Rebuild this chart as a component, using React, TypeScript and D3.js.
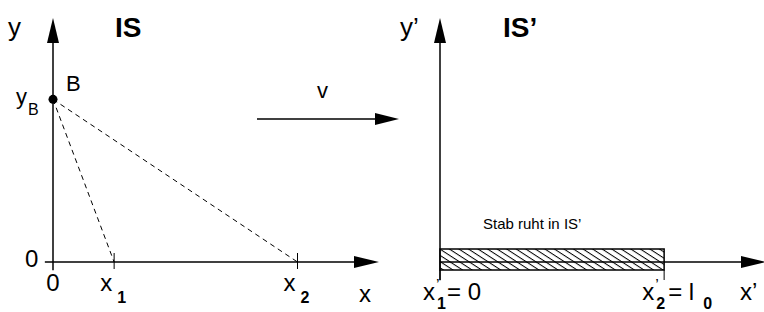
import React from 'react';
import * as d3 from 'd3';

// left frame IS (units are arbitrary, ~20px each)
const leftXDomain = [0, 16];
const leftYDomain = [0, 12];
const eventX = [3, 12]; // x1, x2
const eventSubs = ['1', '2'];
const pointB = [0, 8]; // B sits on the y axis at yB

// right frame IS'
const rightXDomain = [0, 16];
const rodEnds = [0, 11]; // x'1 = 0, x'2 = l0

const font = 'Liberation Sans, Arial, sans-serif';

const arrow = (x: number, y: number, dir: 'up' | 'right', len = 25, half = 6) =>
  dir === 'up'
    ? `${x},${y} ${x - half},${y + len} ${x + half},${y + len}`
    : `${x},${y} ${x - len},${y - half} ${x - len},${y + half}`;

const App = () => {
  const width = 764;
  const height = 312;

  const xL = d3.scaleLinear().domain(leftXDomain).range([53, 379]);
  const yL = d3.scaleLinear().domain(leftYDomain).range([262, 18]);
  const xR = d3.scaleLinear().domain(rightXDomain).range([440, 766]);
  const yR = yL;

  const bx = xL(pointB[0]);
  const by = yL(pointB[1]);

  const rodTop = yR(0) - 13;
  const rodBottom = yR(0) + 8;

  return (
    <svg width={width} height={height} style={{ position: 'absolute', left: 0, top: 0 }} fontFamily={font}>
      <defs>
        <pattern id="hatch" patternUnits="userSpaceOnUse" width="12" height="5.2" patternTransform="rotate(33)">
          <line x1="0" y1="0.5" x2="12" y2="0.5" stroke="#000" strokeWidth="1" />
        </pattern>
      </defs>

      {/* ---- IS ---- */}
      <line x1={bx} y1={yL(-0.4)} x2={bx} y2={yL(leftYDomain[1]) + 20} stroke="#000" strokeWidth={1.5} />
      <polygon points={arrow(bx, yL(leftYDomain[1]), 'up')} fill="#000" />
      <line x1={xL(-0.4)} y1={yL(0)} x2={xL(leftXDomain[1]) - 20} y2={yL(0)} stroke="#000" strokeWidth={1.5} />
      <polygon points={arrow(xL(leftXDomain[1]), yL(0), 'right')} fill="#000" />

      {eventX.map((v, i) => (
        <g key={i}>
          <line x1={bx} y1={by} x2={xL(v)} y2={yL(0)} stroke="#000" strokeWidth={1} strokeDasharray="5,4" />
          <line x1={xL(v)} y1={yL(0) - 9} x2={xL(v)} y2={yL(0) + 7} stroke="#000" strokeWidth={1} />
          <text x={xL(v) - 14} y={291} fontSize={24}>x</text>
          <text x={xL(v) + 3} y={303} fontSize={16} fontWeight="bold">{eventSubs[i]}</text>
        </g>
      ))}
      <circle cx={bx} cy={by} r={4.5} fill="#000" />

      <text x={8} y={36} fontSize={26}>y</text>
      <text x={115} y={37} fontSize={28} fontWeight="bold">IS</text>
      <text x={66} y={91} fontSize={22}>B</text>
      <text x={16} y={104} fontSize={22}>y</text>
      <text x={28} y={115} fontSize={16}>B</text>
      <text x={25} y={267} fontSize={24}>0</text>
      <text x={bx} y={291} fontSize={24} textAnchor="middle">0</text>
      <text x={359} y={302} fontSize={24}>x</text>

      {/* ---- velocity ---- */}
      <line x1={257} y1={119} x2={380} y2={119} stroke="#000" strokeWidth={1.5} />
      <polygon points={arrow(399, 119, 'right', 24, 6)} fill="#000" />
      <text x={317} y={98} fontSize={22}>v</text>

      {/* ---- IS' ---- */}
      <line x1={xR(0)} y1={yR(-0.9)} x2={xR(0)} y2={yR(leftYDomain[1]) + 20} stroke="#000" strokeWidth={1.5} />
      <polygon points={arrow(xR(0), yR(leftYDomain[1]), 'up')} fill="#000" />
      <line x1={xR(0)} y1={yR(0)} x2={xR(rightXDomain[1]) - 20} y2={yR(0)} stroke="#000" strokeWidth={1.5} />
      <polygon points={arrow(xR(rightXDomain[1]), yR(0), 'right')} fill="#000" />

      <rect x={xR(rodEnds[0])} y={rodTop} width={xR(rodEnds[1]) - xR(rodEnds[0])} height={rodBottom - rodTop}
        fill="url(#hatch)" stroke="#000" strokeWidth={1.5} />
      {rodEnds.map((v, i) => (
        <line key={i} x1={xR(v)} y1={rodBottom} x2={xR(v)} y2={rodBottom + 10} stroke="#000" strokeWidth={1} />
      ))}

      <text x={400} y={36} fontSize={26}>y’</text>
      <text x={503} y={37} fontSize={28} fontWeight="bold">IS’</text>
      <text x={483} y={229} fontSize={15}>Stab ruht in IS’</text>

      <text x={423} y={300} fontSize={24}>x</text>
      <text x={436} y={291} fontSize={16}>’</text>
      <text x={437} y={309} fontSize={16} fontWeight="bold">1</text>
      <text x={447} y={300} fontSize={24}>= 0</text>

      <text x={xR(rodEnds[1]) - 22} y={300} fontSize={24}>x</text>
      <text x={xR(rodEnds[1]) - 9} y={291} fontSize={16}>’</text>
      <text x={xR(rodEnds[1]) - 8} y={309} fontSize={16} fontWeight="bold">2</text>
      <text x={xR(rodEnds[1]) + 4} y={300} fontSize={24}>= l</text>
      <text x={xR(rodEnds[1]) + 39} y={309} fontSize={16} fontWeight="bold">0</text>

      <text x={740} y={300} fontSize={24}>x’</text>
    </svg>
  );
};

export default App;
